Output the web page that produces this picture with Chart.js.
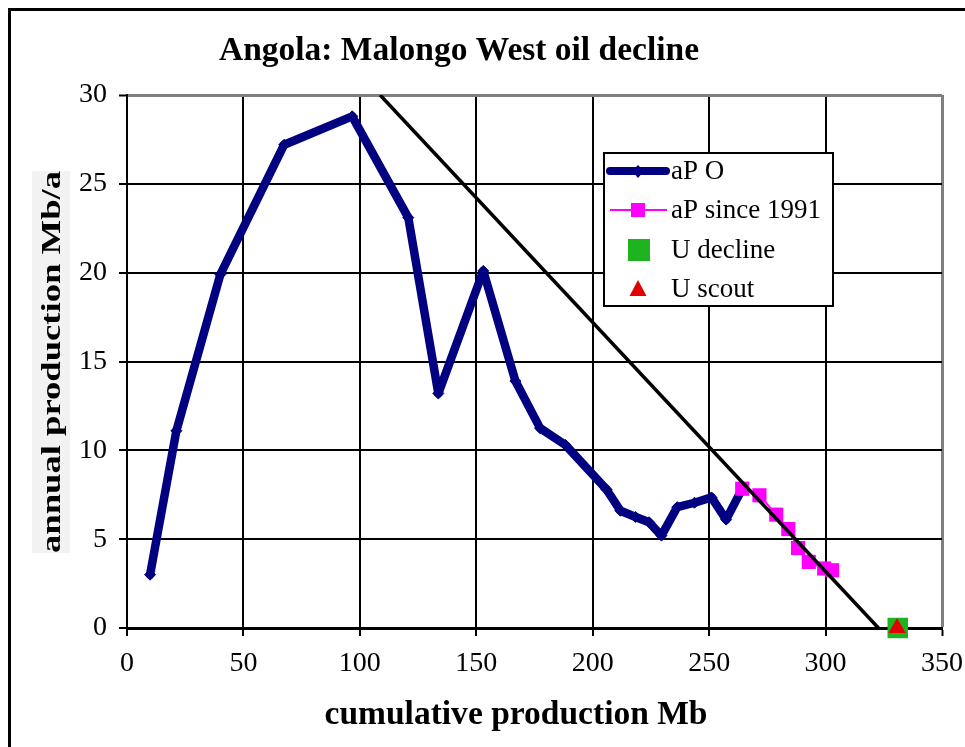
<!DOCTYPE html>
<html>
<head>
<meta charset="utf-8">
<title>Angola: Malongo West oil decline</title>
<script src="https://cdn.jsdelivr.net/npm/chart.js@4.4.1/dist/chart.umd.min.js"></script>
<style>
  html, body { margin: 0; padding: 0; background: #ffffff; }
  #wrap { width: 965px; height: 747px; position: relative; }
  canvas { display: block; }
</style>
</head>
<body>
<div id="wrap"><canvas id="chart" width="965" height="747"></canvas></div>
<script>
// Annual production (Mb/a) against cumulative production (Mb)
const cumProd = [9.9, 21.2, 40.1, 67.5, 96.7, 120.8, 133.7, 153.0, 166.8, 177.4, 188.3, 205.9, 211.9, 218.4, 224.2, 229.5, 236.3, 243.7, 251.0, 257.3, 264.2];
const annualProd = [3.0, 11.1, 19.9, 27.2, 28.8, 23.1, 13.2, 20.1, 13.9, 11.25, 10.3, 7.8, 6.6, 6.25, 5.95, 5.2, 6.8, 7.05, 7.35, 6.1, 7.84];

// Years since 1991
const cumSince1991 = [264.2, 271.6, 278.8, 284.0, 288.2, 292.8, 299.4, 302.8];
const annualSince1991 = [7.84, 7.47, 6.38, 5.57, 4.5, 3.72, 3.35, 3.25];

// Ultimate recovery estimates
const uDecline = [331.0];
const uScout = [330.7];

// Linear decline trend
const declineX = [108.7, 322.7];
const declineY = [30, 0];

// Axis ticks
const xTickValues = [0, 50, 100, 150, 200, 250, 300, 350];
const yTickValues = [0, 5, 10, 15, 20, 25, 30];

const seriesNames = ['aP O', 'aP since 1991', 'U decline', 'U scout'];
const titleText = 'Angola: Malongo West oil decline';
const xTitleText = 'cumulative production Mb';
const yTitleText = 'annual production Mb/a';

const NAVY = '#000080';
const MAGENTA = '#ff00ff';
const GREEN = '#1fb41f';
const RED = '#e00000';
const SERIF = '"Liberation Serif", "Times New Roman", serif';

const toPoints = (xs, ys) => xs.map((x, i) => ({ x: x, y: ys[i] }));

// Draw text stretched horizontally to a given width
function fittedText(ctx, text, cx, baseY, font, targetWidth, rotate) {
  ctx.save();
  ctx.font = font;
  ctx.fillStyle = '#000';
  ctx.textAlign = 'center';
  ctx.textBaseline = 'alphabetic';
  const w = ctx.measureText(text).width;
  ctx.translate(cx, baseY);
  if (rotate) ctx.rotate(-Math.PI / 2);
  ctx.scale(targetWidth / w, 1);
  ctx.fillText(text, 0, 0);
  ctx.restore();
}

const decorPlugin = {
  id: 'decor',
  beforeDraw(chart) {
    const ctx = chart.ctx;
    ctx.save();
    ctx.fillStyle = '#ffffff';
    ctx.fillRect(0, 0, chart.width, chart.height);
    ctx.restore();
  },
  afterDraw(chart) {
    const ctx = chart.ctx;
    ctx.save();
    // outer frame (left and top edges)
    ctx.strokeStyle = '#000';
    ctx.lineWidth = 3;
    ctx.beginPath();
    ctx.moveTo(9.5, chart.height + 2);
    ctx.lineTo(9.5, 9.5);
    ctx.lineTo(chart.width + 2, 9.5);
    ctx.stroke();

    // titles
    fittedText(ctx, titleText, 459, 60, 'bold 33px ' + SERIF, 480, false);
    fittedText(ctx, xTitleText, 516, 724, 'bold 33px ' + SERIF, 383, false);
    ctx.fillStyle = '#f2f2f2';
    ctx.fillRect(32, 171, 38, 382);
    fittedText(ctx, yTitleText, 60, 362, 'bold 27px ' + SERIF, 382, true);

    // legend
    const lx = 604, ly = 153, lw = 229, lh = 153;
    ctx.fillStyle = '#ffffff';
    ctx.fillRect(lx, ly, lw, lh);
    ctx.strokeStyle = '#000';
    ctx.lineWidth = 2;
    ctx.strokeRect(lx, ly, lw, lh);

    const symX = 638;
    const rows = [171, 210, 250, 289];
    // row 1: thick navy line with diamond
    ctx.strokeStyle = NAVY;
    ctx.lineWidth = 8;
    ctx.lineCap = 'round';
    ctx.beginPath();
    ctx.moveTo(610, rows[0]);
    ctx.lineTo(666, rows[0]);
    ctx.stroke();
    ctx.fillStyle = NAVY;
    ctx.beginPath();
    ctx.moveTo(symX, rows[0] - 6);
    ctx.lineTo(symX + 6, rows[0]);
    ctx.lineTo(symX, rows[0] + 7);
    ctx.lineTo(symX - 6, rows[0]);
    ctx.closePath();
    ctx.fill();
    // row 2: thin magenta line with square
    ctx.strokeStyle = MAGENTA;
    ctx.lineWidth = 2;
    ctx.lineCap = 'butt';
    ctx.beginPath();
    ctx.moveTo(610, rows[1]);
    ctx.lineTo(667, rows[1]);
    ctx.stroke();
    ctx.fillStyle = MAGENTA;
    ctx.fillRect(symX - 7, rows[1] - 7, 14, 14);
    // row 3: green square
    ctx.fillStyle = GREEN;
    ctx.fillRect(628, rows[2] - 11, 22, 22);
    // row 4: red triangle
    ctx.fillStyle = RED;
    ctx.beginPath();
    ctx.moveTo(symX, rows[3] - 9);
    ctx.lineTo(symX + 8.5, rows[3] + 7);
    ctx.lineTo(symX - 8.5, rows[3] + 7);
    ctx.closePath();
    ctx.fill();

    ctx.fillStyle = '#000';
    ctx.font = '27px ' + SERIF;
    ctx.textAlign = 'left';
    ctx.textBaseline = 'alphabetic';
    const baselines = [179, 218, 258, 297];
    seriesNames.forEach((name, i) => ctx.fillText(name, 671, baselines[i]));
    ctx.restore();
  }
};

const gridColor = (edgeValue) => (c) => (c.tick && c.tick.value === edgeValue ? '#808080' : '#000000');
const gridWidth = (edgeValue) => (c) => (c.tick && c.tick.value === edgeValue ? 3 : 2);

new Chart(document.getElementById('chart'), {
  type: 'scatter',
  data: {
    datasets: [
      {
        label: seriesNames[3],
        data: toPoints(uScout, [0]),
        pointStyle: 'triangle',
        pointRadius: 10,
        pointBackgroundColor: RED,
        pointBorderWidth: 0,
        clip: false,
        order: 0
      },
      {
        label: seriesNames[2],
        data: toPoints(uDecline, [0]),
        pointStyle: 'rect',
        pointRadius: 14.5,
        pointBackgroundColor: GREEN,
        pointBorderWidth: 0,
        clip: false,
        order: 1
      },
      {
        label: 'decline',
        data: toPoints(declineX, declineY),
        showLine: true,
        borderColor: '#000000',
        borderWidth: 3.5,
        pointRadius: 0,
        order: 2
      },
      {
        label: seriesNames[1],
        data: toPoints(cumSince1991, annualSince1991),
        showLine: true,
        borderColor: MAGENTA,
        borderWidth: 2,
        pointStyle: 'rect',
        pointRadius: 10,
        pointBackgroundColor: MAGENTA,
        pointBorderWidth: 0,
        clip: false,
        order: 3
      },
      {
        label: seriesNames[0],
        data: toPoints(cumProd, annualProd),
        showLine: true,
        borderColor: NAVY,
        borderWidth: 8.5,
        borderJoinStyle: 'round',
        borderCapStyle: 'round',
        pointStyle: 'rectRot',
        pointRadius: 5.5,
        pointBackgroundColor: NAVY,
        pointBorderColor: NAVY,
        pointBorderWidth: 1,
        order: 4
      }
    ]
  },
  options: {
    responsive: false,
    animation: false,
    events: [],
    layout: { padding: { left: 0, top: 95, right: 23, bottom: 0 } },
    plugins: {
      legend: { display: false },
      title: { display: false },
      tooltip: { enabled: false }
    },
    scales: {
      x: {
        type: 'linear',
        min: 0,
        max: 350,
        afterBuildTicks: (s) => { s.ticks = xTickValues.map((v) => ({ value: v })); },
        afterFit: (s) => { s.height = 119; s.paddingLeft = 0; s.paddingRight = 0; },
        grid: {
          color: gridColor(350),
          lineWidth: gridWidth(350),
          tickColor: '#000000',
          tickLength: 8,
          tickWidth: 2
        },
        border: { color: '#000000', width: 3 },
        ticks: {
          color: '#000000',
          font: { family: SERIF, size: 28 },
          padding: 11,
          maxRotation: 0,
          autoSkip: false
        }
      },
      y: {
        type: 'linear',
        min: 0,
        max: 30,
        afterBuildTicks: (s) => { s.ticks = yTickValues.map((v) => ({ value: v })); },
        afterFit: (s) => { s.width = 127; s.paddingTop = 0; s.paddingBottom = 0; },
        grid: {
          color: gridColor(30),
          lineWidth: gridWidth(30),
          tickColor: '#000000',
          tickLength: 8,
          tickWidth: 2
        },
        border: { color: '#000000', width: 2 },
        ticks: {
          color: '#000000',
          font: { family: SERIF, size: 28 },
          padding: 12,
          autoSkip: false
        }
      }
    }
  },
  plugins: [decorPlugin]
});
</script>
</body>
</html>
